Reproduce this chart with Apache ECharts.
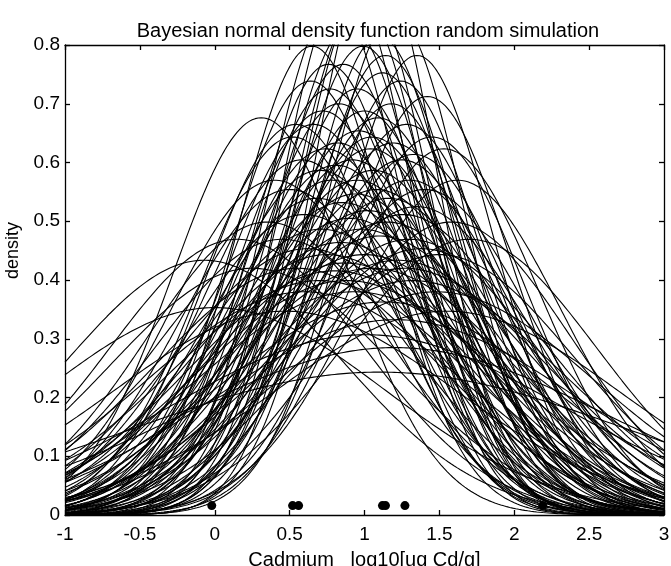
<!DOCTYPE html>
<html>
<head>
<meta charset="utf-8">
<script src="https://cdn.jsdelivr.net/npm/echarts@6/dist/echarts.min.js"></script>
<style>
html,body{margin:0;padding:0;background:#fff;}
#chart{width:671px;height:566px;}
</style>
</head>
<body>
<div id="chart"></div>
<script>
// Tick labels
const xTicks = [-1, -0.5, 0, 0.5, 1, 1.5, 2, 2.5, 3];
const yTicks = [0, 0.1, 0.2, 0.3, 0.4, 0.5, 0.6, 0.7, 0.8];

// Observed data points (log10 cadmium) shown as dots near the axis
const obsX = [-0.02, 0.52, 0.56, 1.12, 1.14, 1.27, 2.19];
const obsY = [0.016, 0.016, 0.016, 0.016, 0.016, 0.016, 0.016];

// Simulated normal curves: mean and standard deviation read from each curve's peak
const curveMeans = [
  0.31, 0.54, 0.77, -0.07, 0.00, 1.10, 1.20, 1.35, 1.53, 0.95,
  1.05, 0.85, 1.15, 0.70, 1.25, 0.90, 1.00, 0.80, 1.10, 0.65,
  1.20, 0.95, 0.60, 1.40, 1.30, 0.75, 1.05, 0.88, 0.45, 1.50,
  1.00, 0.82, 1.18, 0.72, 1.28, 0.92, 1.08, 0.58, 1.35, 0.98,
  0.68, 1.22, 0.50, 1.45, 0.86, 1.12, 0.78, 1.02, 0.62, 1.32,
  0.40, 1.58, 0.96, 1.06, 0.74, 1.16, 0.84, 1.26, 0.55, 1.38,
  0.93, 1.13, 0.70, 0.35, 1.62, 0.99, 0.88, 1.07, 0.76, 1.24,
  0.66, 1.42, 0.52, 0.90, 1.10, 0.80, 1.30, 1.00, 0.60, 1.48,
  0.25, 1.70, 0.94, 1.04, 0.83, 1.19, 0.71, 1.33, 0.97, 1.14,
  0.64, 0.87, 1.21, 0.47, 1.55, 0.15, 1.09, 0.81, 1.27, 1.01
];
const curveSds = [
  0.59, 0.60, 0.55, 0.92, 1.13, 1.64, 1.40, 0.51, 0.64, 0.70,
  0.62, 0.75, 0.80, 0.68, 0.66, 0.48, 0.45, 0.46, 0.49, 0.50,
  0.47, 0.55, 0.78, 0.72, 0.85, 0.90, 0.95, 1.00, 0.85, 0.90,
  0.58, 0.63, 0.57, 0.58, 0.60, 0.66, 0.72, 0.66, 0.76, 0.82,
  0.74, 0.92, 0.72, 0.62, 0.52, 0.53, 0.70, 0.77, 0.88, 1.00,
  0.70, 0.80, 0.61, 0.68, 0.64, 0.74, 0.86, 0.78, 0.95, 0.88,
  1.05, 1.10, 1.00, 0.80, 0.70, 0.50, 0.44, 0.42, 0.52, 0.54,
  0.60, 0.56, 0.62, 0.79, 0.84, 0.96, 0.70, 0.90, 1.05, 1.05,
  0.95, 0.85, 0.73, 0.64, 0.57, 0.63, 0.82, 0.65, 0.46, 0.51,
  0.54, 0.93, 1.20, 1.15, 1.15, 0.85, 0.59, 0.67, 0.95, 1.30
];

const FONT = '"Liberation Sans", Arial, Helvetica, sans-serif';

function densityCurve(mu, sd) {
  const pts = [];
  for (let i = 0; i <= 400; i++) {
    const x = -1 + i * 0.01;
    const z = (x - mu) / sd;
    pts.push([x, Math.exp(-0.5 * z * z) / (sd * Math.sqrt(2 * Math.PI))]);
  }
  return pts;
}

const series = curveMeans.map((mu, i) => ({
  type: 'line',
  xAxisIndex: 0, yAxisIndex: 0,
  data: densityCurve(mu, curveSds[i]),
  showSymbol: false,
  symbol: 'none',
  smooth: false,
  silent: true,
  clip: true,
  lineStyle: { color: '#000', width: 1.1 },
  z: 2
}));

series.push({
  type: 'scatter',
  xAxisIndex: 0, yAxisIndex: 0,
  data: obsX.map((x, i) => [x, obsY[i]]),
  symbol: 'circle',
  symbolSize: 9,
  itemStyle: { color: '#000', opacity: 1 },
  z: 5
});

const axisLineStyle = { color: '#000', width: 1.3 };
const axisCommonX = {
  type: 'value', min: -1, max: 3, interval: 0.5,
  axisLine: { show: true, onZero: false, lineStyle: axisLineStyle },
  axisTick: { show: true, inside: true, length: 5, lineStyle: axisLineStyle },
  splitLine: { show: false }
};
const axisCommonY = {
  type: 'value', min: 0, max: 0.8, interval: 0.1,
  axisLine: { show: true, onZero: false, lineStyle: axisLineStyle },
  axisTick: { show: true, inside: true, length: 5, lineStyle: axisLineStyle },
  splitLine: { show: false }
};

const chart = echarts.init(document.getElementById('chart'), null, { renderer: 'canvas' });
chart.setOption({
  animation: false,
  backgroundColor: '#fff',
  title: {
    text: 'Bayesian normal density function random simulation',
    left: 363, top: 16, textAlign: 'center',
    textStyle: { fontFamily: FONT, fontSize: 20, fontWeight: 'normal', color: '#000' }
  },
  grid: { left: 65, right: 7, top: 45, bottom: 51, containLabel: false, outerBoundsMode: 'none' },
  xAxis: [
    Object.assign({}, axisCommonX, {
      position: 'bottom',
      axisLabel: { show: true, margin: 10, fontFamily: FONT, fontSize: 19, color: '#000',
        formatter: v => String(xTicks.find(t => Math.abs(t - v) < 1e-9) ?? v) },
      name: 'Cadmium   log10[ug Cd/g]',
      nameLocation: 'middle', nameGap: 35,
      nameTextStyle: { fontFamily: FONT, fontSize: 20, color: '#000' }
    }),
    Object.assign({}, axisCommonX, { position: 'top', axisLabel: { show: false } })
  ],
  yAxis: [
    Object.assign({}, axisCommonY, {
      position: 'left',
      axisLabel: { show: true, margin: 5, fontFamily: FONT, fontSize: 19, color: '#000',
        formatter: v => String(yTicks.find(t => Math.abs(t - v) < 1e-9) ?? v) }
    }),
    Object.assign({}, axisCommonY, { position: 'right', axisLabel: { show: false } })
  ],
  graphic: [{
    type: 'text', left: 4, top: 222, rotation: Math.PI / 2,
    style: { text: 'density', font: '18px ' + FONT, fill: '#000' }
  }],
  series: series
});
</script>
</body>
</html>
